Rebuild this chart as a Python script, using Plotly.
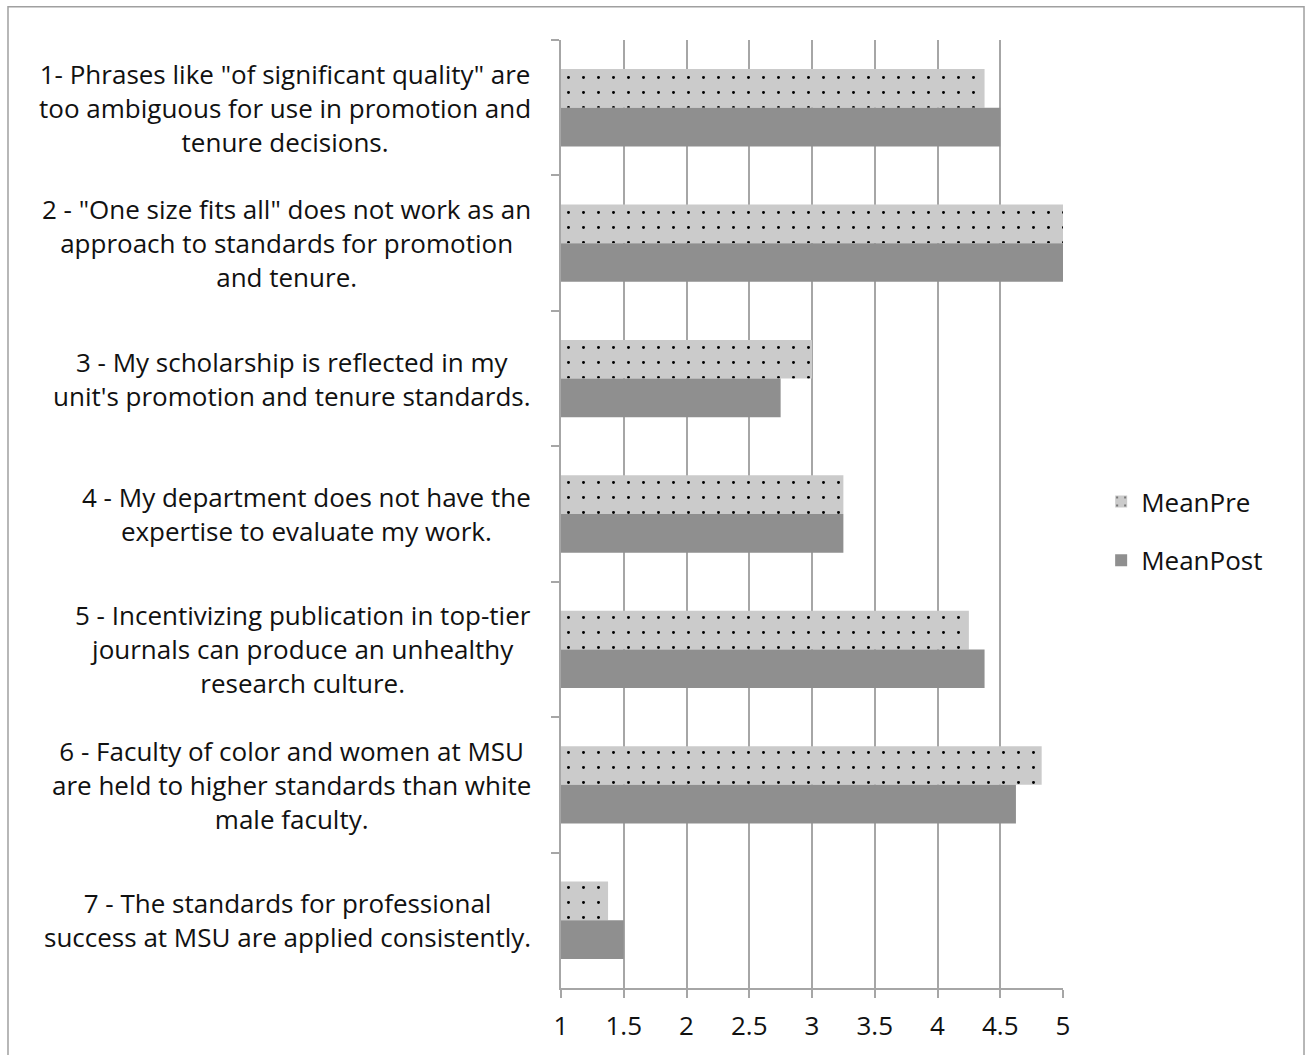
import plotly.graph_objects as go

# Survey statements (top to bottom) and mean agreement before/after
statements = [
    '1- Phrases like "of significant quality" are<br>too ambiguous for use in promotion and<br>tenure decisions.',
    '2 - "One size fits all" does not work as an<br>approach to standards for promotion<br>and tenure.',
    "3 - My scholarship is reflected in my<br>unit's promotion and tenure standards.",
    "4 - My department does not have the<br>expertise to evaluate my work.",
    "5 - Incentivizing publication in top-tier<br>journals can produce an unhealthy<br>research culture.",
    "6 - Faculty of color and women at MSU<br>are held to higher standards than white<br>male faculty.",
    "7 - The standards for professional<br>success at MSU are applied consistently.",
]
mean_pre = [4.375, 5.0, 3.0, 3.25, 4.25, 4.83, 1.375]
mean_post = [4.5, 5.0, 2.75, 3.25, 4.375, 4.625, 1.5]
x_ticks = [1, 1.5, 2, 2.5, 3, 3.5, 4, 4.5, 5]
x_tick_labels = ["1", "1.5", "2", "2.5", "3", "3.5", "4", "4.5", "5"]

FONT = "Open Sans"
FS = 26
AXIS_GRAY = "#a6a6a6"

fig = go.Figure()
fig.add_trace(go.Bar(
    name="MeanPre", y=statements, x=[v - 1 for v in mean_pre], base=1,
    orientation="h", legendgroup="pre",
    marker=dict(color="#cbcbcb", line=dict(width=0),
                pattern=dict(shape=".", fgcolor="#000000", bgcolor="#cbcbcb",
                             size=15, solidity=0.03, fillmode="replace")),
))
fig.add_trace(go.Bar(
    name="MeanPost", y=statements, x=[v - 1 for v in mean_post], base=1,
    orientation="h", legendgroup="post",
    marker=dict(color="#8f8f8f", line=dict(width=0)),
))

# Category labels, centred on their own lines and right-aligned to the axis
for s in statements:
    fig.add_annotation(x=-0.055, xref="paper", y=s, yref="y", text=s,
                       xanchor="right", yanchor="middle", align="center",
                       showarrow=False,
                       font=dict(family=FONT, size=FS, color="#111111"))

# Outer chart border
fig.add_shape(type="rect", xref="paper", yref="paper",
              x0=-1.1016, x1=1.4801, y0=-0.12, y1=1.0352,
              line=dict(color="#a0a0a0", width=1.5), fillcolor="rgba(0,0,0,0)")

fig.update_layout(
    width=1306, height=1055,
    margin=dict(l=561, r=243, t=40, b=64),
    paper_bgcolor="white", plot_bgcolor="white",
    barmode="group", bargap=0.4286, bargroupgap=0,
    font=dict(family=FONT, size=FS, color="#111111"),
    legend=dict(x=1.076, y=0.482, xanchor="left", yanchor="middle",
                traceorder="grouped", font=dict(family=FONT, size=FS),
                itemwidth=30, tracegroupgap=22, bgcolor="rgba(0,0,0,0)"),
    xaxis=dict(range=[1, 5], tickvals=x_ticks, ticktext=x_tick_labels,
               showgrid=True, gridcolor=AXIS_GRAY, gridwidth=1.5,
               showline=True, linecolor=AXIS_GRAY, linewidth=1.5,
               ticks="outside", ticklen=8, tickcolor=AXIS_GRAY, tickwidth=1.5,
               ticklabelstandoff=6,
               zeroline=False, tickfont=dict(family=FONT, size=FS)),
    yaxis=dict(categoryorder="array", categoryarray=statements,
               autorange="reversed", showticklabels=False,
               showline=True, linecolor=AXIS_GRAY, linewidth=1.5,
               ticks="outside", ticklen=8, tickcolor=AXIS_GRAY, tickwidth=1.5,
               tickson="boundaries", showgrid=False, zeroline=False),
    showlegend=True,
)

fig.write_html("out.html")
